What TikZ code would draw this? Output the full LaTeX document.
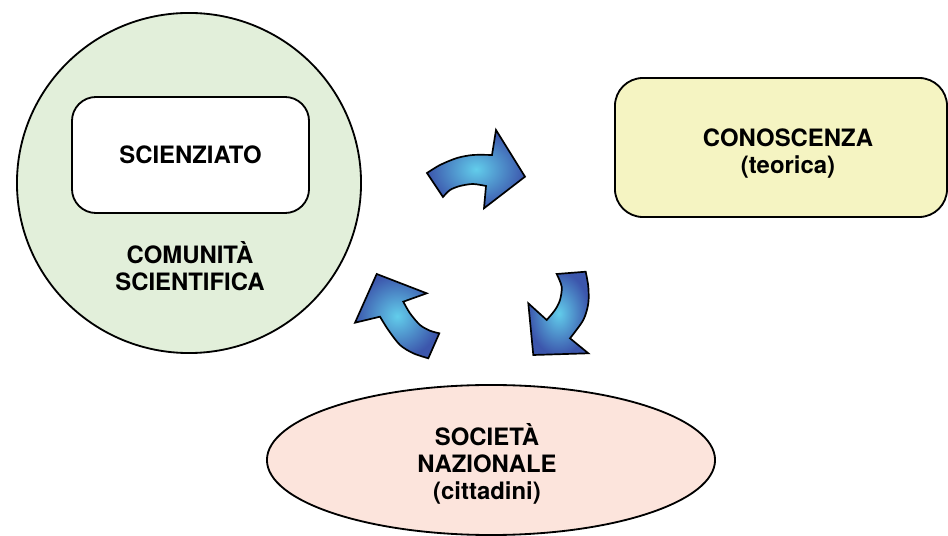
\documentclass[tikz,border=0pt]{standalone}
\usepackage{fontspec}
\setmainfont{TeX Gyre Heros}
\usepackage{xcolor}
\usetikzlibrary{shapes.geometric, positioning}
\definecolor{comgreen}{RGB}{226,239,218}
\definecolor{conyellow}{RGB}{245,244,194}
\definecolor{socpink}{RGB}{252,228,220}
\definecolor{arrowlight}{RGB}{98,205,235}
\definecolor{arrowdark}{RGB}{60,86,172}

\begin{document}
\begin{tikzpicture}[x=0.025cm, y=-0.025cm, line width=1.3pt,
	every node/.style={font=\fontsize{17}{19.2}\selectfont\bfseries, align=center},
	roundbox/.style={draw, rounded corners=#1},
	cyclearrow/.style={inner color=arrowlight, outer color=arrowdark,
		draw=black, line width=1.2pt, line join=miter}]
			\useasboundingbox (0,0) rectangle (948,536);
			
			%% comunità scientifica
			\node[ellipse, draw, fill=comgreen, minimum width=8.6cm,
			minimum height=8.5cm] (comunita) at (189,183) {};
			\node[roundbox=0.6cm, fill=white, minimum width=5.925cm,
			minimum height=2.9cm] (scienziato) at (190.5,155) {SCIENZIATO};
			\node (comlabel) at (190,266) {COMUNITÀ\\SCIENTIFICA};
			
			%% conoscenza
			\node[roundbox=0.7cm, fill=conyellow, minimum width=8.3cm,
			minimum height=3.475cm] (conoscenza) at (781,147.5) {};
			\node (conlabel) at (788,154) {CONOSCENZA\\(teorica)};
			
			%% società
			\node[ellipse, draw, fill=socpink, minimum width=11.2cm,
			minimum height=3.75cm] (societa) at (491,460) {};
			\node (soclabel) at (487,464) {SOCIETÀ\\NAZIONALE\\(cittadini)};
			
			%% frecce
			\shadedraw[cyclearrow]
			plot[smooth] coordinates {(427,173) (440,165) (457,158) (473,155) (492,155)}
			-- (496,130) -- (525,176.7) -- (484,208.3)
			-- plot[smooth] coordinates {(486,186) (473,184) (460,186) (450,190) (443,197)}
			-- cycle;
			
			\shadedraw[cyclearrow]
			plot[smooth] coordinates {(585.7,271.7) (588.3,286.7) (588.3,303.3) (583.3,320) (570,338.3)}
			-- (588.3,353.3) -- (533.3,355) -- (528.3,303.3)
			-- plot[smooth] coordinates {(546.7,320) (555,310) (560,300) (561.7,286.7) (556.7,274)}
			-- cycle;
			
			\shadedraw[cyclearrow]
			plot[smooth] coordinates {(428.3,358.3) (413.3,353.3) (400,345) (388.3,330) (380,316.7)}
			-- (355,322.7) -- (376.7,274) -- (426.7,293.3)
			-- plot[smooth] coordinates {(403.3,301.7) (410,313.3) (420,325) (430,330.7) (439.3,333.3)}
			-- cycle;
		\end{tikzpicture}
\end{document}
